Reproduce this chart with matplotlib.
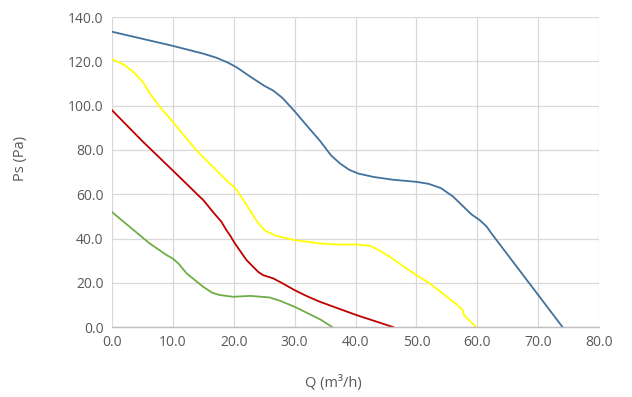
import matplotlib.pyplot as plt

# fan curves
q_blue = [0, 5, 10, 15, 17.2, 19, 20.5, 22.5, 25, 26.5, 28, 30, 32, 34.2, 36, 37.5, 39, 40.5, 43, 46, 50,
          52, 54, 56, 57.5, 59, 60.4, 61.5, 62.3, 65, 70, 74]
p_blue = [133.4, 130.2, 127, 123.5, 121.6, 119.5, 117.3, 113.5, 109, 106.8, 103.5, 97.5, 91, 84, 77.5, 73.8, 71, 69.3, 67.8, 66.6, 65.6,
          64.7, 62.8, 59, 55, 51, 48.3, 45.5, 42.4, 32.6, 14.5, 0]

q_yellow = [0, 2, 3.5, 5, 6.5, 8, 10, 12, 14, 16, 18, 19.4, 20.5, 22.5, 24, 25.2, 27, 30, 34.1, 37, 40.2, 42.4, 44, 45.6, 48,
            50, 52.2, 55, 56.5, 57.6, 57.8, 59.8]
p_yellow = [121, 118.5, 115.3, 111, 104.5, 99, 92.7, 86, 79.5, 74, 68.5, 64.8, 62, 53.5, 47, 43.5, 41.2, 39.3, 37.8, 37.3, 37.3, 36.7, 34.5, 31.8, 27.2,
            23.5, 19.7, 13.7, 10.5, 7.7, 5.4, 0]

q_red = [0, 5, 11.7, 14, 15, 16.6, 18, 18.8, 19.5, 20.2, 22.1, 24, 24.8, 26.5, 28, 30, 32, 34.2, 40.2, 46.2]
p_red = [98, 84, 66.2, 60, 57.4, 52, 47.5, 43.8, 41, 37.8, 30.3, 25, 23.5, 22, 19.8, 16.7, 14, 11.4, 5.4, 0]

q_green = [0, 6.2, 9, 10, 11, 12.3, 15, 16.5, 17.7, 19.9, 22.7, 25.9, 27.5, 30, 34.2, 36.2]
p_green = [52, 37.8, 32.5, 31, 28.5, 24.2, 18.2, 15.5, 14.5, 13.7, 14.1, 13.4, 12, 9.2, 3.5, 0]

xticks = [0, 10, 20, 30, 40, 50, 60, 70, 80]
yticks = [0, 20, 40, 60, 80, 100, 120, 140]

plt.rcParams['font.family'] = ['Open Sans', 'DejaVu Sans']

fig = plt.figure(figsize=(6.32, 3.97), dpi=100)
ax = fig.add_axes([0.177, 0.176, 0.771, 0.781])

ax.plot(q_blue, p_blue, color='#41719c', lw=1.3)
ax.plot(q_yellow, p_yellow, color='#ffff00', lw=1.3)
ax.plot(q_red, p_red, color='#c00000', lw=1.3)
ax.plot(q_green, p_green, color='#70ad47', lw=1.3)

ax.set_xlim(0, 80)
ax.set_ylim(0, 140)
ax.set_xticks(xticks)
ax.set_yticks(yticks)
ax.set_xticklabels([f'{v:.1f}' for v in xticks])
ax.set_yticklabels([f'{v:.1f}' for v in yticks])
ax.tick_params(length=0, labelsize=10, colors='#595959', pad=6)
ax.grid(True, color='#d9d9d9', lw=0.9)
ax.set_axisbelow(True)
for s in ['top', 'right', 'left']:
    ax.spines[s].set_visible(False)
ax.spines['bottom'].set_color('#bfbfbf')
ax.spines['bottom'].set_linewidth(1.0)

fig.text(0.528, 0.035, 'Q (m³/h)', ha='center', va='center', fontsize=10.5, color='#595959')
fig.text(0.033, 0.6, 'Ps (Pa)', ha='center', va='center', rotation=90, fontsize=10.5, color='#595959')

fig.savefig('out.png', dpi=100)
